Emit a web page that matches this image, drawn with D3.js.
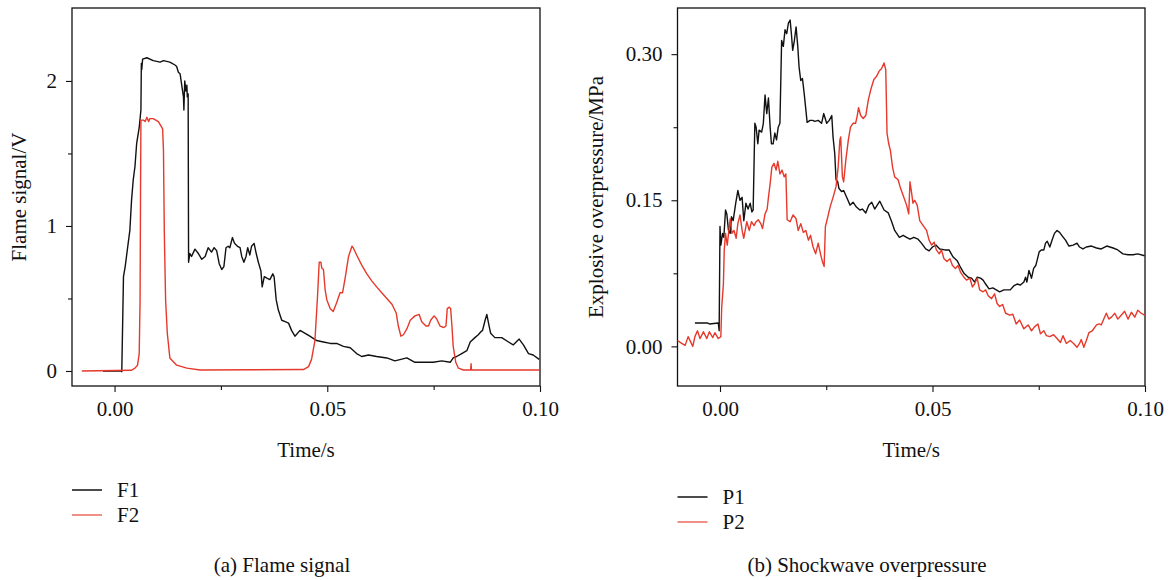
<!DOCTYPE html>
<html>
<head>
<meta charset="utf-8">
<script src="https://cdn.jsdelivr.net/npm/d3@7"></script>
<style>
  body { margin: 0; background: #fff; }
  text { font-family: "Liberation Serif", "Times New Roman", serif; fill: #111; }
</style>
</head>
<body>
<svg id="chart" width="1169" height="580"></svg>
<script>
// axis ticks
const timeTicks = [0, 0.05, 0.1];
const timeMinor = [0.025, 0.075];
const flameTicks = [0, 1, 2];
const flameMinor = [0.5, 1.5];
const pressTicks = [0, 0.15, 0.3];
const pressMinor = [0.075, 0.225];

// flame signals [time s, V]
const F1 = [
  [-0.0027, 0], [0.0016, 0], [0.0017, -0.005], [0.0021, 0.65], [0.0025, 0.72], [0.0032, 0.88],
  [0.0036, 0.97], [0.0040, 1.18], [0.0044, 1.32], [0.0048, 1.41], [0.0052, 1.57], [0.0058, 1.68],
  [0.0062, 1.80], [0.0063, 2.12], [0.0064, 2.08], [0.0066, 2.15], [0.0076, 2.16], [0.0091, 2.14],
  [0.0107, 2.13], [0.0115, 2.14], [0.0130, 2.13], [0.0142, 2.11], [0.0146, 2.10], [0.0150, 2.06],
  [0.0154, 2.05], [0.0158, 1.97], [0.0162, 1.89], [0.0163, 1.80], [0.0165, 2.00], [0.0168, 1.93],
  [0.0170, 1.97], [0.0171, 1.89], [0.0173, 1.91], [0.0174, 0.75], [0.0177, 0.81], [0.0181, 0.79],
  [0.0189, 0.84], [0.0197, 0.81], [0.0205, 0.77], [0.0213, 0.79], [0.0220, 0.85], [0.0228, 0.82],
  [0.0234, 0.85], [0.0240, 0.83], [0.0246, 0.74], [0.0252, 0.70], [0.0257, 0.72], [0.0262, 0.85],
  [0.0267, 0.86], [0.0271, 0.85], [0.0277, 0.92], [0.0282, 0.88], [0.0289, 0.86], [0.0295, 0.85],
  [0.0299, 0.79], [0.0304, 0.75], [0.0309, 0.79], [0.0313, 0.85], [0.0318, 0.80], [0.0322, 0.86],
  [0.0328, 0.88], [0.0333, 0.81], [0.0338, 0.75], [0.0344, 0.69], [0.0347, 0.58], [0.0352, 0.65],
  [0.0358, 0.64], [0.0365, 0.63], [0.0372, 0.67], [0.0375, 0.65], [0.0380, 0.49], [0.0385, 0.42],
  [0.0393, 0.35], [0.0401, 0.34], [0.0409, 0.33], [0.0416, 0.28], [0.0424, 0.24], [0.0436, 0.28],
  [0.0448, 0.26], [0.0459, 0.24], [0.0475, 0.21], [0.0491, 0.20], [0.0507, 0.19], [0.0522, 0.19],
  [0.0538, 0.17], [0.0554, 0.16], [0.0569, 0.12], [0.0581, 0.10], [0.0597, 0.11], [0.0616, 0.10],
  [0.0640, 0.09], [0.0659, 0.07], [0.0687, 0.09], [0.0706, 0.06], [0.0726, 0.06], [0.0749, 0.06],
  [0.0769, 0.07], [0.0789, 0.06], [0.0796, 0.09], [0.0804, 0.10], [0.0816, 0.12], [0.0828, 0.14],
  [0.0836, 0.20], [0.0847, 0.23], [0.0855, 0.25], [0.0861, 0.27], [0.0865, 0.28], [0.0871, 0.35],
  [0.0875, 0.39], [0.0879, 0.33], [0.0884, 0.26], [0.0894, 0.23], [0.0910, 0.23], [0.0926, 0.20],
  [0.0937, 0.18], [0.0951, 0.22], [0.0961, 0.18], [0.0973, 0.12], [0.0984, 0.11], [0.0998, 0.08]
];
const F2 = [
  [-0.0077, 0], [0.0040, 0.005], [0.0048, 0.02], [0.0054, 0.04], [0.0058, 0.12], [0.0060, 0.49],
  [0.0061, 1.18], [0.0062, 1.73], [0.0068, 1.73], [0.0072, 1.72], [0.0076, 1.75], [0.0080, 1.72],
  [0.0083, 1.74], [0.0091, 1.74], [0.0103, 1.72], [0.0109, 1.69], [0.0113, 1.67], [0.0115, 1.52],
  [0.0117, 0.95], [0.0120, 0.49], [0.0124, 0.26], [0.0130, 0.09], [0.0146, 0.04], [0.0170, 0.02],
  [0.0201, 0.007], [0.0444, 0.01], [0.0456, 0.03], [0.0463, 0.08], [0.0471, 0.21], [0.0477, 0.51],
  [0.0481, 0.75], [0.0485, 0.75], [0.0487, 0.71], [0.0491, 0.70], [0.0495, 0.56], [0.0499, 0.49],
  [0.0507, 0.43], [0.0514, 0.41], [0.0522, 0.47], [0.0530, 0.54], [0.0536, 0.54], [0.0542, 0.64],
  [0.0550, 0.79], [0.0558, 0.86], [0.0561, 0.85], [0.0569, 0.80], [0.0581, 0.73], [0.0593, 0.67],
  [0.0605, 0.62], [0.0616, 0.58], [0.0628, 0.54], [0.0640, 0.50], [0.0652, 0.46], [0.0662, 0.40],
  [0.0667, 0.31], [0.0673, 0.24], [0.0679, 0.25], [0.0687, 0.29], [0.0695, 0.35], [0.0706, 0.38],
  [0.0716, 0.39], [0.0722, 0.34], [0.0732, 0.31], [0.0738, 0.31], [0.0743, 0.35], [0.0751, 0.38],
  [0.0757, 0.36], [0.0765, 0.31], [0.0774, 0.30], [0.0779, 0.31], [0.0782, 0.43], [0.0787, 0.44],
  [0.0790, 0.43], [0.0793, 0.31], [0.0796, 0.17], [0.0802, 0.06], [0.0808, 0.02], [0.0820, 0.007],
  [0.0837, 0.007], [0.0838, 0.05], [0.0839, 0.007], [0.0998, 0.007]
];

// shockwave overpressure [time s, MPa]
const P1 = [
  [-0.0059, 0.024], [-0.0030, 0.024], [-0.0025, 0.023], [-0.0004, 0.024], [-0.0002, 0.016],
  [0.0000, 0.123], [0.0002, 0.104], [0.0006, 0.116], [0.0009, 0.112], [0.0013, 0.140], [0.0016, 0.136],
  [0.0020, 0.119], [0.0024, 0.116], [0.0027, 0.133], [0.0031, 0.129], [0.0037, 0.147], [0.0042, 0.160],
  [0.0047, 0.150], [0.0052, 0.153], [0.0056, 0.129], [0.0061, 0.147], [0.0066, 0.141], [0.0071, 0.147],
  [0.0075, 0.138], [0.0078, 0.140], [0.0082, 0.229], [0.0085, 0.225], [0.0089, 0.208], [0.0092, 0.222],
  [0.0098, 0.220], [0.0102, 0.229], [0.0106, 0.258], [0.0110, 0.239], [0.0114, 0.255], [0.0118, 0.225],
  [0.0121, 0.208], [0.0125, 0.208], [0.0129, 0.219], [0.0133, 0.212], [0.0137, 0.225], [0.0141, 0.229],
  [0.0145, 0.314], [0.0149, 0.308], [0.0153, 0.325], [0.0157, 0.321], [0.0161, 0.332], [0.0165, 0.335],
  [0.0168, 0.321], [0.0171, 0.304], [0.0175, 0.314], [0.0179, 0.328], [0.0183, 0.308], [0.0186, 0.287],
  [0.0190, 0.273], [0.0194, 0.275], [0.0198, 0.260], [0.0202, 0.243], [0.0205, 0.230], [0.0212, 0.232],
  [0.0218, 0.232], [0.0223, 0.231], [0.0231, 0.232], [0.0239, 0.229], [0.0244, 0.239], [0.0251, 0.229],
  [0.0257, 0.232], [0.0263, 0.237], [0.0266, 0.215], [0.0270, 0.198], [0.0273, 0.171], [0.0277, 0.169],
  [0.0280, 0.162], [0.0286, 0.159], [0.0291, 0.160], [0.0298, 0.153], [0.0306, 0.145], [0.0313, 0.148],
  [0.0321, 0.143], [0.0329, 0.140], [0.0335, 0.141], [0.0343, 0.137], [0.0350, 0.145], [0.0357, 0.148],
  [0.0364, 0.141], [0.0376, 0.149], [0.0386, 0.140], [0.0396, 0.137], [0.0404, 0.128], [0.0411, 0.119],
  [0.0422, 0.112], [0.0431, 0.114], [0.0439, 0.112], [0.0447, 0.110], [0.0456, 0.112], [0.0466, 0.110],
  [0.0474, 0.106], [0.0484, 0.100], [0.0492, 0.098], [0.0500, 0.102], [0.0508, 0.104], [0.0517, 0.100],
  [0.0529, 0.099], [0.0539, 0.099], [0.0548, 0.092], [0.0558, 0.088], [0.0566, 0.081], [0.0574, 0.075],
  [0.0584, 0.071], [0.0592, 0.070], [0.0599, 0.066], [0.0605, 0.071], [0.0613, 0.070], [0.0619, 0.068],
  [0.0625, 0.064], [0.0633, 0.059], [0.0642, 0.060], [0.0650, 0.058], [0.0658, 0.056], [0.0668, 0.058],
  [0.0675, 0.058], [0.0683, 0.058], [0.0691, 0.062], [0.0699, 0.064], [0.0707, 0.063], [0.0715, 0.066],
  [0.0719, 0.071], [0.0722, 0.066], [0.0727, 0.078], [0.0733, 0.070], [0.0738, 0.080], [0.0743, 0.083],
  [0.0746, 0.088], [0.0751, 0.097], [0.0756, 0.099], [0.0762, 0.099], [0.0766, 0.106], [0.0770, 0.108],
  [0.0776, 0.102], [0.0782, 0.110], [0.0787, 0.116], [0.0793, 0.119], [0.0799, 0.117], [0.0806, 0.113],
  [0.0813, 0.109], [0.0821, 0.103], [0.0831, 0.104], [0.0840, 0.106], [0.0846, 0.102], [0.0854, 0.100],
  [0.0862, 0.102], [0.0874, 0.103], [0.0886, 0.101], [0.0897, 0.100], [0.0910, 0.103], [0.0925, 0.101],
  [0.0936, 0.099], [0.0948, 0.095], [0.0960, 0.094], [0.0972, 0.094], [0.0983, 0.095], [0.0999, 0.093]
];
const P2 = [
  [-0.0100, 0.006], [-0.0090, 0.003], [-0.0082, 0.001], [-0.0075, 0.010], [-0.0064, 0.000],
  [-0.0059, 0.010], [-0.0053, 0.016], [-0.0047, 0.008], [-0.0039, 0.015], [-0.0031, 0.008],
  [-0.0025, 0.015], [-0.0017, 0.009], [-0.0012, 0.014], [-0.0004, 0.008], [0.0002, 0.010],
  [0.0004, 0.040], [0.0008, 0.064], [0.0010, 0.099], [0.0013, 0.116], [0.0017, 0.104], [0.0024, 0.131],
  [0.0028, 0.116], [0.0033, 0.119], [0.0038, 0.111], [0.0042, 0.126], [0.0047, 0.135], [0.0052, 0.119],
  [0.0056, 0.111], [0.0063, 0.128], [0.0069, 0.119], [0.0074, 0.128], [0.0080, 0.124], [0.0085, 0.128],
  [0.0090, 0.130], [0.0096, 0.126], [0.0100, 0.121], [0.0106, 0.136], [0.0111, 0.141], [0.0114, 0.153],
  [0.0118, 0.167], [0.0122, 0.184], [0.0127, 0.188], [0.0132, 0.181], [0.0136, 0.190], [0.0141, 0.177],
  [0.0146, 0.181], [0.0151, 0.174], [0.0155, 0.177], [0.0158, 0.130], [0.0165, 0.128], [0.0172, 0.135],
  [0.0179, 0.131], [0.0184, 0.119], [0.0190, 0.126], [0.0196, 0.117], [0.0202, 0.119], [0.0208, 0.109],
  [0.0213, 0.114], [0.0219, 0.102], [0.0225, 0.095], [0.0231, 0.106], [0.0237, 0.094], [0.0241, 0.087],
  [0.0245, 0.082], [0.0248, 0.123], [0.0252, 0.130], [0.0259, 0.143], [0.0266, 0.153], [0.0273, 0.164],
  [0.0278, 0.184], [0.0282, 0.212], [0.0284, 0.215], [0.0288, 0.174], [0.0291, 0.169], [0.0296, 0.191],
  [0.0302, 0.212], [0.0307, 0.225], [0.0313, 0.229], [0.0319, 0.229], [0.0323, 0.237], [0.0326, 0.245],
  [0.0331, 0.237], [0.0337, 0.234], [0.0343, 0.237], [0.0349, 0.253], [0.0355, 0.264], [0.0362, 0.274],
  [0.0368, 0.277], [0.0375, 0.283], [0.0380, 0.285], [0.0386, 0.291], [0.0390, 0.284], [0.0393, 0.219],
  [0.0397, 0.208], [0.0401, 0.201], [0.0406, 0.184], [0.0411, 0.174], [0.0419, 0.171], [0.0425, 0.162],
  [0.0431, 0.155], [0.0439, 0.145], [0.0444, 0.136], [0.0447, 0.169], [0.0451, 0.157], [0.0454, 0.147],
  [0.0458, 0.150], [0.0464, 0.145], [0.0470, 0.129], [0.0478, 0.124], [0.0486, 0.119], [0.0492, 0.109],
  [0.0498, 0.104], [0.0504, 0.107], [0.0509, 0.099], [0.0516, 0.095], [0.0521, 0.099], [0.0527, 0.090],
  [0.0534, 0.087], [0.0541, 0.090], [0.0547, 0.083], [0.0554, 0.080], [0.0560, 0.083], [0.0566, 0.076],
  [0.0574, 0.071], [0.0580, 0.068], [0.0588, 0.070], [0.0594, 0.061], [0.0599, 0.064], [0.0605, 0.070],
  [0.0611, 0.058], [0.0619, 0.056], [0.0625, 0.058], [0.0631, 0.052], [0.0639, 0.049], [0.0646, 0.054],
  [0.0652, 0.044], [0.0658, 0.041], [0.0665, 0.043], [0.0672, 0.034], [0.0682, 0.032], [0.0689, 0.033],
  [0.0697, 0.023], [0.0705, 0.027], [0.0715, 0.018], [0.0725, 0.022], [0.0733, 0.016], [0.0740, 0.020],
  [0.0748, 0.023], [0.0754, 0.013], [0.0762, 0.016], [0.0768, 0.011], [0.0776, 0.010], [0.0785, 0.012],
  [0.0793, 0.008], [0.0801, 0.004], [0.0807, 0.011], [0.0815, 0.003], [0.0824, 0.006], [0.0832, 0.003],
  [0.0840, -0.001], [0.0846, 0.003], [0.0850, 0.007], [0.0856, -0.001], [0.0862, 0.006], [0.0868, 0.014],
  [0.0876, 0.016], [0.0886, 0.022], [0.0892, 0.023], [0.0897, 0.022], [0.0903, 0.028], [0.0909, 0.034],
  [0.0915, 0.028], [0.0921, 0.030], [0.0929, 0.034], [0.0936, 0.028], [0.0944, 0.032], [0.0952, 0.036],
  [0.0960, 0.028], [0.0968, 0.035], [0.0976, 0.030], [0.0983, 0.037], [0.0991, 0.034], [0.0999, 0.032]
];

const BLACK = "#111";
const RED = "#e6392b";
const FONT = '"Liberation Serif", "Times New Roman", serif';
const FS = "21px";

const svg = d3.select("#chart");
svg.append("rect").attr("width", 1169).attr("height", 580).attr("fill", "#fff");

function drawPanel(p) {
  const x = d3.scaleLinear().domain([-0.01, 0.1]).range([p.left, p.right]);
  const y = d3.scaleLinear().domain(p.yDomain).range([386, 8]);
  const g = svg.append("g");

  // minor ticks
  g.append("g").attr("transform", "translate(0,386)")
    .call(d3.axisBottom(x).tickValues(timeMinor).tickSize(4).tickFormat(""))
    .call(a => a.select(".domain").remove());
  g.append("g").attr("transform", `translate(${p.left},0)`)
    .call(d3.axisLeft(y).tickValues(p.minor).tickSize(4).tickFormat(""))
    .call(a => a.select(".domain").remove());

  // major ticks
  const xa = g.append("g").attr("transform", "translate(0,386)")
    .call(d3.axisBottom(x).tickValues(timeTicks).tickSize(6).tickPadding(9).tickFormat(d3.format(".2f")));
  const ya = g.append("g").attr("transform", `translate(${p.left},0)`)
    .call(d3.axisLeft(y).tickValues(p.ticks).tickSize(6).tickPadding(9).tickFormat(p.fmt));
  [xa, ya].forEach(a => {
    a.select(".domain").remove();
    a.attr("font-family", FONT).attr("font-size", FS);
    a.selectAll("text").attr("fill", "#111");
  });
  g.selectAll(".tick line").attr("stroke", BLACK).attr("stroke-width", 1.1);

  // frame
  g.append("rect").attr("x", p.left).attr("y", 8)
    .attr("width", p.right - p.left).attr("height", 378)
    .attr("fill", "none").attr("stroke", BLACK).attr("stroke-width", 1.3);

  const line = d3.line().x(d => x(d[0])).y(d => y(d[1]));
  p.series.forEach(s => {
    g.append("path").datum(s.data).attr("d", line)
      .attr("fill", "none").attr("stroke", s.color).attr("stroke-width", 1.4)
      .attr("stroke-linejoin", "round");
  });

  // axis titles
  g.append("text").attr("x", (p.left + p.right) / 2).attr("y", 457)
    .attr("text-anchor", "middle").style("font-size", FS).text("Time/s");
  g.append("text")
    .attr("transform", `translate(${p.yTitleX},197) rotate(-90)`)
    .attr("text-anchor", "middle").style("font-size", FS).text(p.yTitle);

  // legend
  p.series.forEach((s, i) => {
    const ly = p.legendY + i * 25;
    g.append("line").attr("x1", p.left).attr("x2", p.left + 30)
      .attr("y1", ly).attr("y2", ly).attr("stroke", s.legendColor).attr("stroke-width", 1.5);
    g.append("text").attr("x", p.left + 45).attr("y", ly + 7)
      .style("font-size", FS).text(s.name);
  });

  // caption
  g.append("text").attr("x", p.captionX).attr("y", 572)
    .attr("text-anchor", "middle").style("font-size", FS).text(p.caption);
}

drawPanel({
  left: 72, right: 540,
  yDomain: [-0.1035, 2.503], ticks: flameTicks, minor: flameMinor, fmt: d3.format("d"),
  yTitle: "Flame signal/V", yTitleX: 26, legendY: 490,
  caption: "(a) Flame signal", captionX: 282,
  series: [
    { name: "F1", data: F1, color: BLACK, legendColor: BLACK },
    { name: "F2", data: F2, color: RED, legendColor: "#ea6a5e" }
  ]
});

drawPanel({
  left: 677.5, right: 1145,
  yDomain: [-0.0407, 0.3474], ticks: pressTicks, minor: pressMinor, fmt: d3.format(".2f"),
  yTitle: "Explosive overpressure/MPa", yTitleX: 603, legendY: 497,
  caption: "(b) Shockwave overpressure", captionX: 867,
  series: [
    { name: "P1", data: P1, color: BLACK, legendColor: BLACK },
    { name: "P2", data: P2, color: RED, legendColor: "#ea6a5e" }
  ]
});
</script>
</body>
</html>
